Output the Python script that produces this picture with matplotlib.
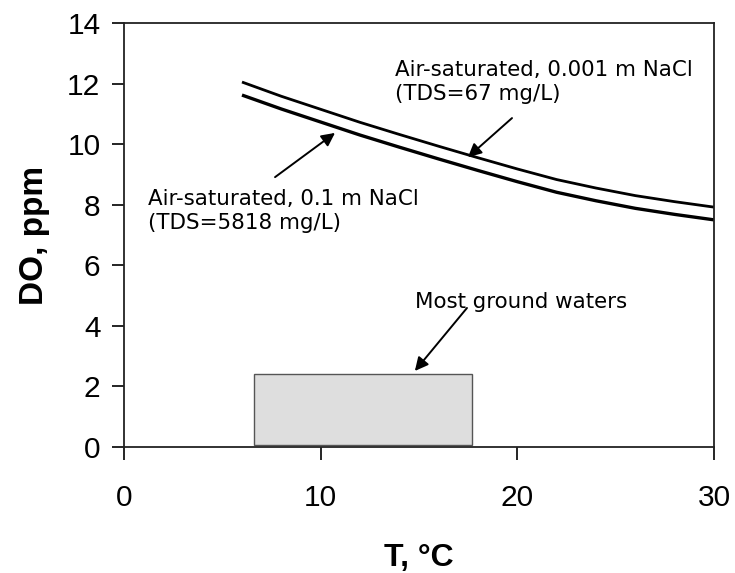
import matplotlib
matplotlib.use('Agg')
import matplotlib.pyplot as plt

# dissolved oxygen vs temperature
T = [6, 8, 10, 12, 14, 16, 18, 20, 22, 24, 26, 28, 30]
do_low_salt = [12.05, 11.58, 11.15, 10.72, 10.32, 9.93, 9.55, 9.18, 8.83, 8.55, 8.30, 8.10, 7.92]
do_high_salt = [11.62, 11.16, 10.73, 10.30, 9.90, 9.51, 9.13, 8.76, 8.41, 8.13, 7.88, 7.68, 7.50]

# "most ground waters" box
gw_T = [6.6, 17.7]
gw_DO = [0.05, 2.4]

x_ticks = [0, 10, 20, 30]
y_ticks = [0, 2, 4, 6, 8, 10, 12, 14]

fig = plt.figure(figsize=(7.35, 5.73), dpi=100)
ax = fig.add_axes([0.1687, 0.2199, 0.8027, 0.7400])

ax.plot(T, do_low_salt, color='black', lw=2.0, solid_capstyle='butt')
ax.plot(T, do_high_salt, color='black', lw=2.4, solid_capstyle='butt')

ax.bar(gw_T[0], gw_DO[1] - gw_DO[0], width=gw_T[1] - gw_T[0], bottom=gw_DO[0],
       align='edge', facecolor='#dedede', edgecolor='#555555', lw=1.0)

ax.set_xlim(0, 30)
ax.set_ylim(0, 14)
ax.set_xticks(x_ticks)
ax.set_yticks(y_ticks)

tick_font = {'family': 'Liberation Sans', 'size': 21.5}
ax.set_xticklabels([str(v) for v in x_ticks], fontdict=tick_font)
ax.set_yticklabels([str(v) for v in y_ticks], fontdict=tick_font)
ax.tick_params(axis='x', direction='out', length=9, width=1.2, pad=18)
ax.tick_params(axis='y', direction='out', length=9, width=1.2, pad=8)
for s in ax.spines.values():
    s.set_linewidth(1.3)
    s.set_color('#222222')

ax.set_xlabel('T, °C', family='Liberation Sans', fontsize=23, fontweight='bold', labelpad=22)
ax.set_ylabel('DO, ppm', family='Liberation Sans', fontsize=24, fontweight='bold', labelpad=12)

note_font = dict(family='DejaVu Sans', fontsize=15.4, ha='left', va='center', linespacing=1.3)
arrow = dict(arrowstyle='-|>', mutation_scale=20, lw=1.4, color='black', shrinkA=0, shrinkB=0)

ax.text(13.78, 12.05, 'Air-saturated, 0.001 m NaCl\n(TDS=67 mg/L)', **note_font)
ax.annotate('', xy=(17.49, 9.57), xytext=(19.73, 10.86), arrowprops=arrow)

ax.text(1.22, 7.79, 'Air-saturated, 0.1 m NaCl\n(TDS=5818 mg/L)', **note_font)
ax.annotate('', xy=(10.73, 10.37), xytext=(7.68, 8.91), arrowprops=arrow)

ax.text(14.8, 4.79, 'Most ground waters', **note_font)
ax.annotate('', xy=(14.79, 2.51), xytext=(17.44, 4.59), arrowprops=arrow)

fig.savefig('out.png', dpi=100)
plt.close(fig)
